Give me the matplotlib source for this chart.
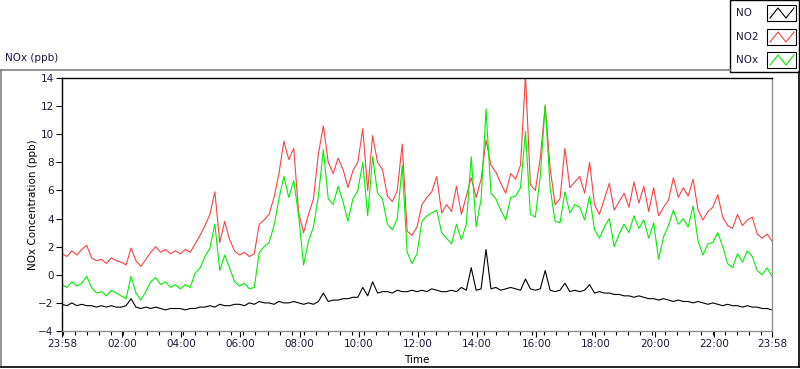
import numpy as np
import matplotlib
matplotlib.use("Agg")
import matplotlib.pyplot as plt
from matplotlib.patches import Rectangle
from matplotlib.lines import Line2D

# values, one every 10 minutes starting at 23:58
no = [-2.1, -2.2, -2.0, -2.2, -2.1, -2.2,
      -2.2, -2.3, -2.2, -2.3, -2.2, -2.3,
      -2.3, -2.2, -1.7, -2.3, -2.4, -2.3,
      -2.4, -2.3, -2.4, -2.5, -2.4, -2.4,
      -2.4, -2.5, -2.4, -2.4, -2.3, -2.3,
      -2.2, -2.3, -2.1, -2.2, -2.2, -2.1,
      -2.1, -2.2, -2.0, -2.1, -1.9, -2.0,
      -2.0, -2.1, -1.9, -2.0, -2.0, -1.9,
      -2.0, -2.1, -2.0, -2.1, -1.9, -1.3,
      -1.9, -1.8, -1.8, -1.7, -1.7, -1.6,
      -1.6, -0.9, -1.5, -0.5, -1.3, -1.2,
      -1.2, -1.3, -1.1, -1.2, -1.2, -1.1,
      -1.2, -1.1, -1.2, -1.0, -1.1, -1.2,
      -1.2, -1.1, -1.2, -0.9, -1.1, 0.5,
      -1.1, -1.0, 1.8, -1.0, -0.9, -1.1,
      -1.0, -0.9, -1.0, -1.1, -0.3, -1.0,
      -1.1, -1.0, 0.3, -1.1, -1.2, -1.1,
      -0.6, -1.2, -1.1, -1.2, -1.1, -0.7,
      -1.3, -1.2, -1.3, -1.3, -1.4, -1.4,
      -1.5, -1.5, -1.6, -1.5, -1.6, -1.7,
      -1.7, -1.8, -1.7, -1.8, -1.9, -1.8,
      -1.9, -1.9, -2.0, -1.9, -2.0, -2.1,
      -2.0, -2.1, -2.2, -2.1, -2.2, -2.2,
      -2.3, -2.2, -2.3, -2.3, -2.4, -2.4,
      -2.5]

no2 = [1.5, 1.3, 1.7, 1.4, 1.8, 2.1,
       1.2, 1.0, 1.1, 0.8, 1.2, 1.0,
       0.9, 0.7, 1.9, 1.0, 0.6, 1.1,
       1.6, 2.0, 1.6, 1.8, 1.5, 1.7,
       1.5, 1.8, 1.6, 2.2, 2.8, 3.5,
       4.3, 5.9, 2.3, 3.8, 2.5, 1.7,
       1.4, 1.6, 1.3, 1.5, 3.6, 3.9,
       4.3, 5.5, 7.2, 9.5, 8.2, 9.0,
       4.4, 3.0, 4.3, 5.4, 8.6, 10.6,
       8.0, 7.2, 8.3, 7.5, 6.2, 7.4,
       8.0, 10.4, 6.0, 9.9, 8.0, 7.5,
       5.6, 5.2, 6.0, 9.3, 3.1, 2.8,
       3.4, 5.0, 5.5, 5.9, 7.0, 4.4,
       5.0, 4.5, 6.3, 4.3, 5.6, 6.9,
       5.5, 6.8, 9.6, 7.8, 7.3, 6.5,
       5.8, 7.2, 6.8, 7.8, 14.2, 6.4,
       6.0, 8.3, 12.0, 7.6, 5.0, 5.4,
       9.0, 6.2, 6.6, 7.0, 5.8, 8.0,
       5.0, 4.3, 5.4, 6.5, 4.6, 5.2,
       5.8, 4.8, 6.6, 5.1, 6.3, 4.5,
       6.2, 4.2, 4.8, 5.3, 6.9, 5.5,
       6.2, 5.6, 6.8, 4.6, 3.9, 4.5,
       4.8, 5.7, 4.1, 3.5, 3.3, 4.3,
       3.5, 3.9, 4.1, 2.9, 2.6, 2.9,
       2.4]

nox = [-0.7, -0.9, -0.5, -0.8, -0.6, -0.1,
       -0.9, -1.3, -1.2, -1.5, -1.1, -1.3,
       -1.5, -1.7, -0.1, -1.3, -1.8, -1.2,
       -0.5, -0.2, -0.7, -0.5, -0.9, -0.7,
       -1.0, -0.7, -0.9, 0.1, 0.5, 1.3,
       1.9, 3.6, 0.3, 1.4, 0.5, -0.5,
       -0.8, -0.6, -1.0, -0.9, 1.6, 2.0,
       2.3, 3.5, 5.4, 7.0, 5.5, 6.7,
       4.2, 0.7, 2.4, 3.4, 5.6, 8.9,
       5.4, 5.0, 6.3, 5.2, 3.8, 5.4,
       6.0, 8.0, 4.2, 8.4, 5.8, 5.4,
       3.6, 3.2, 4.0, 7.8, 1.6, 0.8,
       1.5, 3.8, 4.2, 4.4, 4.6, 3.0,
       2.6, 2.2, 3.6, 2.5, 3.6, 8.4,
       3.4, 5.4, 11.8, 5.8, 5.4, 4.6,
       3.9, 5.5, 5.6, 6.2, 10.2, 4.3,
       4.1, 7.0, 12.1, 6.2, 3.8, 3.7,
       5.9, 4.4, 5.0, 4.8, 3.9, 5.6,
       3.2, 2.6, 3.4, 4.0, 2.0, 2.9,
       3.6, 3.0, 4.2, 3.3, 3.9, 2.6,
       3.7, 1.1, 2.7, 3.5, 4.6, 3.6,
       4.0, 3.4, 4.9, 2.4, 1.4, 2.2,
       2.3, 3.0, 2.0, 0.8, 0.5, 1.5,
       0.9, 1.7, 1.3, 0.3, 0.0, 0.5,
       -0.1]

minutes = np.arange(len(no)) * 10  # minutes after 23:58

series_names = ["NO", "NO2", "NOx"]
series_colors = ["#000000", "#ff4040", "#00f000"]

tick_labels = ["23:58", "02:00", "04:00", "06:00", "08:00", "10:00", "12:00",
               "14:00", "16:00", "18:00", "20:00", "22:00", "23:58"]
tick_minutes = [0, 122, 242, 362, 482, 602, 722, 842, 962, 1082, 1202, 1322, 1440]

label_color = "#1a1a3c"
plt.rcParams["font.family"] = ["DejaVu Sans"]

fig = plt.figure(figsize=(8.0, 3.69), dpi=100)
W, H = 800, 369

def fx(px):
    return px / W

def fy(py):
    return 1 - py / H

# outer panel frame (grey top/left, black bottom/right)
fig.add_artist(Line2D([fx(1), fx(730)], [fy(70), fy(70)], color="#808080", lw=1.2))
fig.add_artist(Line2D([fx(1), fx(1)], [fy(70), fy(367)], color="#808080", lw=1.2))
fig.add_artist(Line2D([fx(1), fx(799)], [fy(367), fy(367)], color="black", lw=1.2))
fig.add_artist(Line2D([fx(799), fx(799)], [fy(72), fy(367)], color="black", lw=1.2))

ax = fig.add_axes([fx(62), fy(331), fx(772) - fx(62), fy(78) - fy(331)])
for vals, name, col in zip([no, no2, nox], series_names, series_colors):
    ax.plot(minutes, vals, color=col, lw=0.8, label=name)

ax.set_xlim(0, 1440)
ax.set_ylim(-4, 14)
ax.set_yticks(range(-4, 15, 2))
ax.set_xticks(tick_minutes)
ax.set_xticklabels(tick_labels)
ax.set_xticks(np.arange(2, 1440, 24.4), minor=True)
ax.tick_params(axis="both", which="major", labelsize=7.5, labelcolor=label_color,
               length=4, width=0.8, pad=2)
ax.tick_params(axis="x", which="minor", length=3, width=0.8)
ax.set_xlabel("Time", fontsize=7.5, labelpad=4)
ax.set_ylabel("NOx Concentration (ppb)", fontsize=7.5, labelpad=0)
ax.spines["left"].set_color("black")
ax.spines["top"].set_color("black")
ax.spines["right"].set_color("#909090")
ax.spines["bottom"].set_color("#909090")
for s in ax.spines.values():
    s.set_linewidth(1.0)

fig.text(fx(5), fy(58), "NOx (ppb)", fontsize=7.5, color=label_color, va="center", ha="left")

# legend panel, top right
fig.add_artist(Rectangle((fx(730), fy(72)), fx(799) - fx(730), fy(0) - fy(72),
                         facecolor="white", edgecolor="black", lw=1.0))
row_y = [13, 37, 60]
for name, col, yy in zip(series_names, series_colors, row_y):
    fig.text(fx(736), fy(yy), name, fontsize=7.5, color=label_color, va="center", ha="left")
    fig.add_artist(Rectangle((fx(767), fy(yy + 8)), fx(796) - fx(767), fy(yy - 8) - fy(yy + 8),
                             facecolor="white", edgecolor="black", lw=0.8))
    zx = [fx(770), fx(778), fx(786), fx(794)]
    zy = [fy(yy + 5), fy(yy - 5), fy(yy + 5), fy(yy - 5)]
    fig.add_artist(Line2D(zx, zy, color=col, lw=0.8))

fig.savefig("out.png", dpi=100)
